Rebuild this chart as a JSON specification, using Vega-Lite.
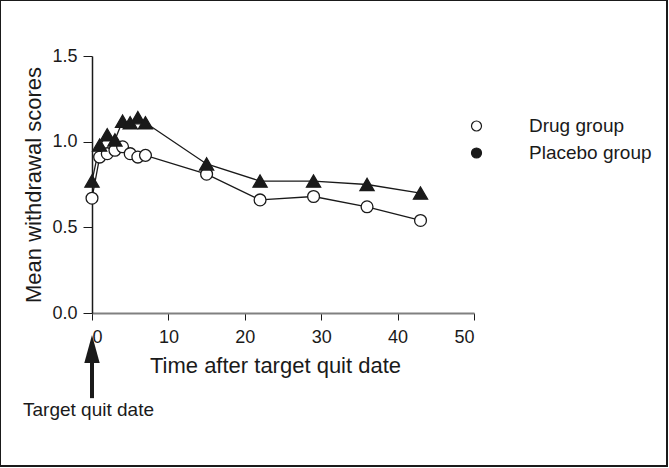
{
  "$schema": "https://vega.github.io/schema/vega-lite/v6.json",
  "width": 667,
  "height": 466,
  "padding": {"left": 0, "top": 0, "right": 2, "bottom": 2},
  "autosize": {"type": "none"},
  "background": "white",
  "config": {
    "font": "Liberation Sans",
    "view": {"stroke": "#1a1a1a", "strokeWidth": 2},
    "axis": {
      "grid": false,
      "labelFont": "Liberation Sans",
      "labelFontSize": 18,
      "labelColor": "#1a1a1a",
      "titleFont": "Liberation Sans",
      "titleFontSize": 22,
      "titleFontWeight": "normal",
      "titleColor": "#1a1a1a",
      "tickColor": "#1a1a1a",
      "tickSize": 7
    },
    "legend": {
      "labelFont": "Liberation Sans",
      "labelFontSize": 19,
      "labelColor": "#1a1a1a"
    }
  },
  "layer": [
    {
      "data": {"name": "scores", "values": [
        {"group": "Drug group", "day": 0, "score": 0.67},
        {"group": "Drug group", "day": 1, "score": 0.91},
        {"group": "Drug group", "day": 2, "score": 0.93},
        {"group": "Drug group", "day": 3, "score": 0.95},
        {"group": "Drug group", "day": 4, "score": 0.97},
        {"group": "Drug group", "day": 5, "score": 0.93},
        {"group": "Drug group", "day": 6, "score": 0.91},
        {"group": "Drug group", "day": 7, "score": 0.92},
        {"group": "Drug group", "day": 15, "score": 0.81},
        {"group": "Drug group", "day": 22, "score": 0.66},
        {"group": "Drug group", "day": 29, "score": 0.68},
        {"group": "Drug group", "day": 36, "score": 0.62},
        {"group": "Drug group", "day": 43, "score": 0.54},
        {"group": "Placebo group", "day": 0, "score": 0.77},
        {"group": "Placebo group", "day": 1, "score": 0.98},
        {"group": "Placebo group", "day": 2, "score": 1.04},
        {"group": "Placebo group", "day": 3, "score": 1.01},
        {"group": "Placebo group", "day": 4, "score": 1.12},
        {"group": "Placebo group", "day": 5, "score": 1.11},
        {"group": "Placebo group", "day": 6, "score": 1.14},
        {"group": "Placebo group", "day": 7, "score": 1.11},
        {"group": "Placebo group", "day": 15, "score": 0.87},
        {"group": "Placebo group", "day": 22, "score": 0.77},
        {"group": "Placebo group", "day": 29, "score": 0.77},
        {"group": "Placebo group", "day": 36, "score": 0.75},
        {"group": "Placebo group", "day": 43, "score": 0.70}
      ]},
      "layer": [
        {
          "mark": {"type": "line", "color": "#1a1a1a", "strokeWidth": 1.3},
          "encoding": {
            "x": {
              "field": "day", "type": "quantitative",
              "scale": {"domain": [0, 50], "range": [92, 474], "nice": false, "zero": false},
              "axis": {
                "title": "Time after target quit date",
                "values": [0, 10, 20, 30, 40, 50],
                "offset": -153,
                "domainColor": "#808080",
                "domainWidth": 2,
                "labelPadding": 8,
                "titleX": 275,
                "titleY": 59,
                "titleBaseline": "alphabetic"
              }
            },
            "y": {
              "field": "score", "type": "quantitative",
              "scale": {"domain": [0, 1.5], "range": [313, 56], "nice": false, "zero": false},
              "axis": {
                "title": "Mean withdrawal scores",
                "values": [0, 0.5, 1, 1.5],
                "format": ".1f",
                "offset": -92,
                "domainColor": "#1a1a1a",
                "domainWidth": 1.5,
                "tickSize": 9,
                "labelPadding": 6,
                "titleX": -52,
                "titleBaseline": "alphabetic"
              }
            },
            "detail": {"field": "group"}
          }
        },
        {
          "mark": {"type": "point", "stroke": "#1a1a1a", "strokeWidth": 1.3, "opacity": 1, "filled": false},
          "encoding": {
            "x": {"field": "day", "type": "quantitative"},
            "y": {"field": "score", "type": "quantitative"},
            "size": {
              "field": "group", "type": "nominal",
              "scale": {"domain": ["Placebo group", "Drug group"], "range": [200, 140]},
              "legend": null
            },
            "shape": {
              "field": "group", "type": "nominal",
              "scale": {"domain": ["Placebo group", "Drug group"], "range": ["triangle-up", "circle"]},
              "legend": null
            },
            "fill": {
              "field": "group", "type": "nominal",
              "scale": {"domain": ["Drug group", "Placebo group"], "range": ["white", "#1a1a1a"]},
              "legend": {
                "title": null,
                "orient": "none",
                "legendX": 467,
                "legendY": 116.5,
                "padding": 0,
                "labelOffset": 43,
                "rowPadding": 7,
                "symbolSize": 100,
                "symbolStrokeWidth": 1.2,
                "encode": {
                  "symbols": {
                    "shape": {
                      "condition": {"test": "datum.value === 'Drug group'", "value": "M-9,0H-1.4M1.4,0H9M-1.4,0A1.4,1.4,0,1,1,1.4,0A1.4,1.4,0,1,1,-1.4,0Z"},
                      "value": "M-8.8,0H9.2M0.6,-1.35L2.1,1.25L-0.9,1.25Z"
                    },
                    "size": {"value": 100},
                    "stroke": {"value": "#1a1a1a"},
                    "strokeWidth": {"value": 1.2}
                  }
                }
              }
            }
          }
        }
      ]
    },
    {
      "data": {"name": "event", "values": [{"day": 0, "label": "Target quit date"}]},
      "layer": [
        {
          "mark": {"type": "rule", "color": "#1a1a1a", "strokeWidth": 4},
          "encoding": {
            "x": {"field": "day", "type": "quantitative"},
            "y": {"datum": -0.27, "type": "quantitative"},
            "y2": {"datum": -0.497}
          }
        },
        {
          "mark": {"type": "point", "shape": "M0,-1L0.55,1L-0.55,1Z", "filled": true, "color": "#1a1a1a", "opacity": 1, "size": 784},
          "encoding": {
            "x": {"field": "day", "type": "quantitative"},
            "y": {"datum": -0.21, "type": "quantitative"}
          }
        },
        {
          "mark": {"type": "text", "align": "center", "baseline": "alphabetic", "dx": -3.5, "fontSize": 19, "font": "Liberation Sans", "color": "#1a1a1a"},
          "encoding": {
            "x": {"field": "day", "type": "quantitative"},
            "y": {"datum": -0.601, "type": "quantitative"},
            "text": {"field": "label"}
          }
        }
      ]
    }
  ]
}
